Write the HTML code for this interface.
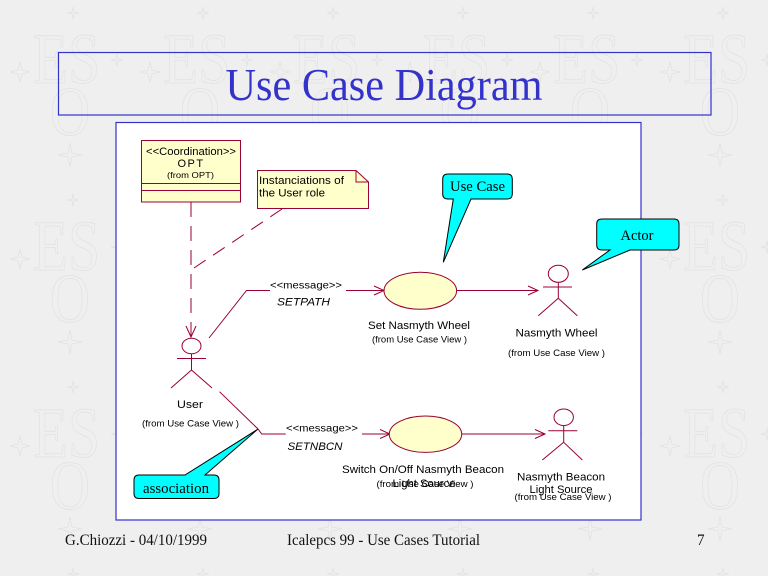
<!DOCTYPE html>
<html><head><meta charset="utf-8"><style>
html,body{margin:0;padding:0;background:#efefef;}
svg{display:block;}
</style></head><body>
<svg width="768" height="576" viewBox="0 0 768 576" xmlns="http://www.w3.org/2000/svg">
<defs>
<pattern id="wm" patternUnits="userSpaceOnUse" x="0" y="0" width="130" height="187">
<text x="33" y="83" font-family="Liberation Serif, serif" font-size="72" fill="none" stroke="#e2e2e2" stroke-width="0.8" textLength="67" lengthAdjust="spacingAndGlyphs">ES</text>
<text x="50" y="135" font-family="Liberation Serif, serif" font-size="70" fill="none" stroke="#e2e2e2" stroke-width="0.8" textLength="40" lengthAdjust="spacingAndGlyphs">O</text>
<path d="M73,7 L74,12 L79,13 L74,14 L73,19 L72,14 L67,13 L72,12 Z" fill="none" stroke="#e2e2e2" stroke-width="0.8"/>
<path d="M20,62 L22,70 L30,72 L22,74 L20,82 L18,74 L10,72 L18,70 Z" fill="none" stroke="#e2e2e2" stroke-width="0.8"/>
<path d="M70,143 L72,153 L82,155 L72,157 L70,167 L68,157 L58,155 L68,153 Z" fill="none" stroke="#e2e2e2" stroke-width="0.8"/>
<path d="M117,54 L118,59 L123,60 L118,61 L117,66 L116,61 L111,60 L116,59 Z" fill="none" stroke="#e2e2e2" stroke-width="0.8"/>
</pattern>
</defs>
<rect x="0" y="0" width="768" height="576" fill="#efefef"/>
<rect x="0" y="0" width="768" height="576" fill="url(#wm)"/>

<!-- Title box -->
<rect x="58.5" y="52.5" width="652.5" height="62.5" fill="none" stroke="#3333cc" stroke-width="1.2"/>
<text x="384" y="100" text-anchor="middle" font-family="Liberation Serif, serif" font-size="45" fill="#3333cc" textLength="317" lengthAdjust="spacingAndGlyphs">Use Case Diagram</text>

<!-- Diagram box -->
<rect x="116" y="122.5" width="525" height="397.5" fill="#ffffff" stroke="#3333cc" stroke-width="1.2"/>

<g stroke="#990033" stroke-width="1" fill="none">
  <!-- OPT class -->
  <rect x="141.5" y="140.5" width="99" height="61.5" fill="#ffffcc"/>
  <line x1="141.5" y1="183.5" x2="240.5" y2="183.5"/>
  <line x1="141.5" y1="190.5" x2="240.5" y2="190.5"/>
  <!-- note -->
  <path d="M257.5,170.5 H356 L368.5,182 V208.5 H257.5 Z" fill="#ffffcc"/>
  <path d="M356,170.5 V182 H368.5"/>
  <!-- dashed lines -->
  <line x1="191" y1="202" x2="191" y2="337" stroke-dasharray="15 9"/>
  <line x1="282" y1="209" x2="191" y2="270" stroke-dasharray="14 9"/>
  <path d="M186,326 L191,337 L196,326"/>
  <!-- User actor -->
  <ellipse cx="191.5" cy="346" rx="9.5" ry="7.8"/>
  <line x1="177" y1="358.5" x2="206" y2="358.5"/>
  <line x1="191.5" y1="354" x2="191.5" y2="370"/>
  <line x1="191.5" y1="370" x2="171" y2="388"/>
  <line x1="191.5" y1="370" x2="212" y2="388"/>
  <!-- SETPATH association -->
  <path d="M209,338 L246.5,290.5 H270"/>
  <line x1="346" y1="290.5" x2="384" y2="290.5"/>
  <path d="M374,286 L384,290.5 L374,295"/>
  <!-- Set Nasmyth Wheel -->
  <ellipse cx="420.3" cy="290.8" rx="36.3" ry="18.5" fill="#ffffcc"/>
  <line x1="456.6" y1="290.5" x2="538" y2="290.5"/>
  <path d="M528,286 L538,290.5 L528,295"/>
  <!-- Nasmyth Wheel actor -->
  <ellipse cx="558.3" cy="273.8" rx="10" ry="8.5"/>
  <line x1="543" y1="287" x2="572" y2="287"/>
  <line x1="558.3" y1="282.3" x2="558.3" y2="298.3"/>
  <line x1="558.3" y1="298.3" x2="538.3" y2="315.7"/>
  <line x1="558.3" y1="298.3" x2="577.3" y2="315.7"/>
  <!-- SETNBCN association -->
  <path d="M219.5,391.7 L258,429 L261.7,434 H285.7"/>
  <line x1="362" y1="434" x2="390" y2="434"/>
  <path d="M380,429.5 L390,434 L380,438.5"/>
  <!-- Switch ellipse -->
  <ellipse cx="425.5" cy="434.2" rx="36.2" ry="18.2" fill="#ffffcc"/>
  <line x1="461.7" y1="434" x2="545" y2="434"/>
  <path d="M535,429.5 L545,434 L535,438.5"/>
  <!-- Nasmyth Beacon actor -->
  <ellipse cx="563.7" cy="417.3" rx="9.7" ry="8.3"/>
  <line x1="548.3" y1="430.7" x2="577.3" y2="430.7"/>
  <line x1="563.7" y1="425.6" x2="563.7" y2="442.3"/>
  <line x1="563.7" y1="442.3" x2="542.3" y2="460"/>
  <line x1="563.7" y1="442.3" x2="582.3" y2="460"/>
</g>

<!-- Callouts -->
<g fill="#00ffff" stroke="#000" stroke-width="1">
  <path d="M448,174 H507 Q512.3,174 512.3,179 V194 Q512.3,199 507,199 H471 L443.3,262.3 L453.3,199 H448 Q442.7,199 442.7,194 V179 Q442.7,174 448,174 Z"/>
  <path d="M602,219 H674 Q679,219 679,224 V245 Q679,250 674,250 H630 L582.3,270 L610,250 H602 Q596.7,250 596.7,245 V224 Q596.7,219 602,219 Z"/>
  <path d="M139,475 H185 L257.7,429.3 L205,475 H214 Q219,475 219,480 V493.5 Q219,498.5 214,498.5 H139 Q134,498.5 134,493.5 V480 Q134,475 139,475 Z"/>
</g>
<g font-family="Liberation Serif, serif" font-size="14.5" fill="#000">
  <text x="477.5" y="191" text-anchor="middle" textLength="55" lengthAdjust="spacingAndGlyphs">Use Case</text>
  <text x="637" y="240" text-anchor="middle" textLength="33" lengthAdjust="spacingAndGlyphs">Actor</text>
  <text x="176" y="493" text-anchor="middle" textLength="66" lengthAdjust="spacingAndGlyphs">association</text>
</g>

<!-- Diagram labels -->
<g font-family="Liberation Sans, sans-serif" fill="#000">
  <text x="191" y="155" text-anchor="middle" font-size="11" textLength="90" lengthAdjust="spacingAndGlyphs">&lt;&lt;Coordination&gt;&gt;</text>
  <text x="191" y="167" text-anchor="middle" font-size="11" letter-spacing="1.5">OPT</text>
  <text x="190.5" y="178" text-anchor="middle" font-size="8.5" textLength="47" lengthAdjust="spacingAndGlyphs">(from OPT)</text>
  <text x="259" y="184" font-size="11" textLength="85" lengthAdjust="spacingAndGlyphs">Instanciations of</text>
  <text x="259" y="196.5" font-size="11" textLength="66" lengthAdjust="spacingAndGlyphs">the User role</text>

  <text x="306" y="288.5" text-anchor="middle" font-size="10" textLength="72" lengthAdjust="spacingAndGlyphs">&lt;&lt;message&gt;&gt;</text>
  <text x="303.5" y="305.5" text-anchor="middle" font-size="11" font-style="italic" textLength="53" lengthAdjust="spacingAndGlyphs">SETPATH</text>

  <text x="419" y="329" text-anchor="middle" font-size="11" textLength="102" lengthAdjust="spacingAndGlyphs">Set Nasmyth Wheel</text>
  <text x="419.5" y="342.5" text-anchor="middle" font-size="9" textLength="95" lengthAdjust="spacingAndGlyphs">(from Use Case View )</text>

  <text x="556.5" y="336.5" text-anchor="middle" font-size="11" textLength="82" lengthAdjust="spacingAndGlyphs">Nasmyth Wheel</text>
  <text x="556.5" y="356" text-anchor="middle" font-size="9" textLength="97" lengthAdjust="spacingAndGlyphs">(from Use Case View )</text>

  <text x="190" y="408" text-anchor="middle" font-size="11" textLength="26" lengthAdjust="spacingAndGlyphs">User</text>
  <text x="190.5" y="426.5" text-anchor="middle" font-size="9" textLength="97" lengthAdjust="spacingAndGlyphs">(from Use Case View )</text>

  <text x="322" y="431.5" text-anchor="middle" font-size="10" textLength="72" lengthAdjust="spacingAndGlyphs">&lt;&lt;message&gt;&gt;</text>
  <text x="315" y="450" text-anchor="middle" font-size="11" font-style="italic" textLength="55" lengthAdjust="spacingAndGlyphs">SETNBCN</text>

  <text x="423" y="473" text-anchor="middle" font-size="11" textLength="162" lengthAdjust="spacingAndGlyphs">Switch On/Off Nasmyth Beacon</text>
  <text x="425" y="487" text-anchor="middle" font-size="9" textLength="97" lengthAdjust="spacingAndGlyphs">(from Use Case View )</text>
  <text x="424" y="487" text-anchor="middle" font-size="11" textLength="63" lengthAdjust="spacingAndGlyphs">Light Source</text>

  <text x="561" y="480.5" text-anchor="middle" font-size="11" textLength="88" lengthAdjust="spacingAndGlyphs">Nasmyth Beacon</text>
  <text x="561" y="493" text-anchor="middle" font-size="11" textLength="63" lengthAdjust="spacingAndGlyphs">Light Source</text>
  <text x="563" y="500" text-anchor="middle" font-size="9" textLength="97" lengthAdjust="spacingAndGlyphs">(from Use Case View )</text>
</g>

<!-- Footer -->
<g font-family="Liberation Serif, serif" font-size="16" fill="#111">
  <text x="65" y="545" textLength="142" lengthAdjust="spacingAndGlyphs">G.Chiozzi - 04/10/1999</text>
  <text x="287" y="545" textLength="193" lengthAdjust="spacingAndGlyphs">Icalepcs 99 - Use Cases Tutorial</text>
  <text x="697" y="545" textLength="7.5" lengthAdjust="spacingAndGlyphs">7</text>
</g>
</svg>
</body></html>
